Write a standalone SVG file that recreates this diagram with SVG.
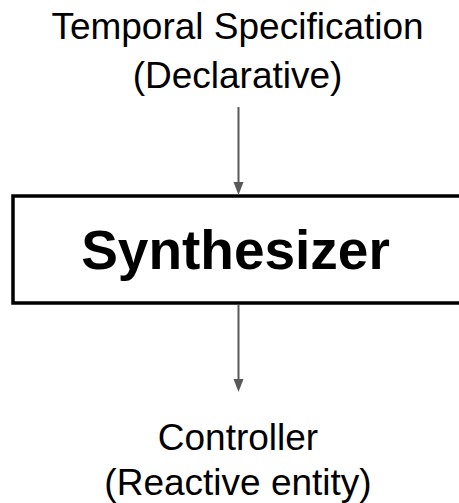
<svg xmlns="http://www.w3.org/2000/svg" width="459" height="503" viewBox="0 0 459 503">
  <style>
    .label { font-family: "Liberation Sans", Arial, sans-serif; font-size: 37px; fill: #000; text-anchor: middle; }
    .title { font-family: "Liberation Sans", Arial, sans-serif; font-size: 55px; font-weight: bold; fill: #000; text-anchor: middle; }
    .conn { stroke: #595959; stroke-width: 2; fill: none; }
    .head { fill: #595959; }
  </style>
  <defs>
    <!-- downward arrowhead, tip at origin -->
    <path id="head" class="head" d="M-5,-13 L5,-13 L0,0 Z"/>
  </defs>
  <rect width="459" height="503" fill="#fff"/>
  <g id="spec">
    <text class="label" x="237.5" y="39">Temporal Specification</text>
    <text class="label" x="237.5" y="88">(Declarative)</text>
  </g>
  <g id="synthesizer">
    <rect x="13" y="196" width="455" height="107" fill="#fff" stroke="#000" stroke-width="3.5"/>
    <text class="title" x="235.5" y="269">Synthesizer</text>
  </g>
  <g id="controller">
    <text class="label" x="238" y="450">Controller</text>
    <text class="label" x="238" y="495">(Reactive entity)</text>
  </g>
  <g id="connectors">
    <path class="conn" d="M238.5,107 V183"/>
    <use href="#head" x="238.5" y="195"/>
    <path class="conn" d="M238.5,305 V380"/>
    <use href="#head" x="238.5" y="392"/>
  </g>
</svg>
